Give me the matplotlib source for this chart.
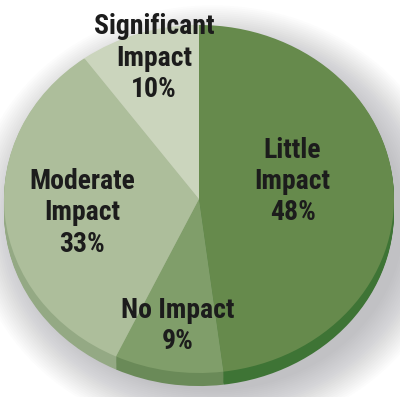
import numpy as np
import matplotlib
matplotlib.use('Agg')
import matplotlib.pyplot as plt
from matplotlib import font_manager
from matplotlib.patches import Ellipse

# data
labels = ['Little\nImpact', 'No Impact', 'Moderate\nImpact', 'Significant\nImpact']
shares = [48, 9, 33, 10]
top_colors = ['#668a4c', '#809e6a', '#adbe9b', '#cbd5bd']
side_colors = ['#3e7435', '#6a8a58', '#94a984', '#b3bfa4']

# label centres in pie units (x, y)
label_pos = [(0.48, 0.10), (-0.11, -0.73), (-0.60, -0.08), (-0.23, 0.81)]

# pick a condensed font if there is one
names = {f.name for f in font_manager.fontManager.ttflist}
font = 'DejaVu Sans'
fsize = 15
for cand in ['Liberation Sans Narrow', 'Roboto Condensed', 'DejaVu Sans Condensed',
             'Open Sans Condensed']:
    if cand in names:
        font = cand
        fsize = 20
        break

fig = plt.figure(figsize=(4.0, 3.97), dpi=100)
ax = fig.add_axes([0, 0, 1, 1])

# soft shadow, lower right
for i in range(24):
    r = 0.98 + 0.011 * i
    ax.add_patch(Ellipse((0.07, -0.12), 2 * r, 2 * r, color='#80808a',
                         alpha=0.025, lw=0, zorder=0))

# side of the pie: stack shifted copies
depth = 0.075
for d in np.linspace(depth, 0.005, 12):
    ax.pie(shares, colors=side_colors, startangle=90, counterclock=False,
           center=(0, -d), radius=1.0, wedgeprops=dict(linewidth=0))

# top face
wedges, _ = ax.pie(shares, colors=top_colors, startangle=90, counterclock=False,
                   center=(0, 0), radius=1.0, wedgeprops=dict(linewidth=0))

for lab, share, (x, y) in zip(labels, shares, label_pos):
    ax.text(x, y, f'{lab}\n{share}%', ha='center', va='center',
            fontsize=fsize, fontweight='bold', family=[font, 'DejaVu Sans'],
            color='#1c1c1c', linespacing=1.2, zorder=10)

ax.set_aspect('auto')
ax.set_xlim(-1.0205, 1.0308)
ax.set_ylim(-1.1379, 1.1437)
ax.axis('off')

plt.savefig('out.png', dpi=100, facecolor='white')
